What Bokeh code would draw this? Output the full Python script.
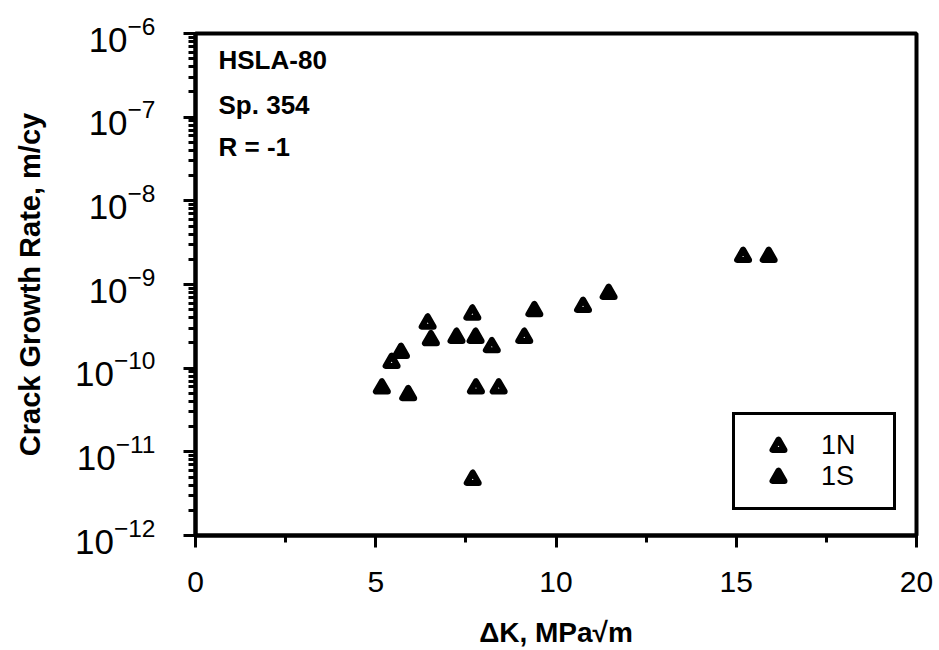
from bokeh.plotting import figure
from bokeh.models import (Range1d, FixedTicker, LogTickFormatter,
                          Label, Legend, LegendItem)
from bokeh.embed import file_html
from bokeh.resources import INLINE

# ---- data ----
n1_x = [15.19, 10.75, 7.68, 6.44, 8.22, 9.12, 5.44, 7.78, 8.41, 7.69]
n1_y = [2.16e-9, 5.46e-10, 4.42e-10, 3.45e-10, 1.80e-10, 2.33e-10, 1.17e-10, 5.77e-11, 5.77e-11, 4.68e-12]
s1_x = [15.90, 11.46, 9.40, 6.53, 7.24, 7.77, 5.70, 5.17, 5.90]
s1_y = [2.16e-9, 7.8e-10, 4.85e-10, 2.18e-10, 2.33e-10, 2.33e-10, 1.54e-10, 5.77e-11, 4.81e-11]

x_ticks = [0, 5, 10, 15, 20]
x_minor = [2.5, 7.5, 12.5, 17.5]
y_ticks = [1e-12, 1e-11, 1e-10, 1e-9, 1e-8, 1e-7, 1e-6]
y_minor = [k * 10.0 ** e for e in range(-12, -6) for k in range(2, 10)]

series_labels = ["1N", "1S"]
note_lines = ["HSLA-80", "Sp. 354", "R = -1"]
x_title = "\u0394K, MPa\u221am"
y_title = "Crack Growth Rate, m/cy"

FONT = "Liberation Sans"

p = figure(width=939, height=650, y_axis_type="log",
           x_range=Range1d(0, 20), y_range=Range1d(1e-12, 1e-6),
           output_backend="svg", toolbar_location=None,
           min_border_left=195, min_border_right=23, min_border_top=33, min_border_bottom=115)
p.background_fill_color = "white"
p.border_fill_color = "white"
p.grid.visible = False
p.outline_line_color = "black"
p.outline_line_width = 4

for ax in (p.xaxis[0], p.yaxis[0]):
    ax.axis_line_width = 4
    ax.axis_line_color = "black"
    ax.major_tick_line_width = 3
    ax.minor_tick_line_width = 3
    ax.major_tick_in = 0
    ax.minor_tick_in = 0
    ax.major_tick_out = 12
    ax.minor_tick_out = 7
    ax.major_tick_line_color = "black"
    ax.minor_tick_line_color = "black"
    ax.major_label_text_font = FONT
    ax.major_label_text_color = "black"
    ax.axis_label_text_font = FONT
    ax.axis_label_text_font_style = "bold"
    ax.axis_label_text_color = "black"

p.xaxis.ticker = FixedTicker(ticks=x_ticks, minor_ticks=x_minor)
p.xaxis.major_label_text_font_size = "30px"
p.xaxis.major_label_standoff = 24
p.xaxis.axis_label = x_title
p.xaxis.axis_label_text_font_size = "28px"
p.xaxis.axis_label_standoff = 22

p.yaxis.ticker = FixedTicker(ticks=y_ticks, minor_ticks=y_minor)
p.yaxis.formatter = LogTickFormatter()
p.yaxis.major_label_text_font_size = "35px"
p.yaxis.major_label_standoff = 28
p.yaxis.axis_label = y_title
p.yaxis.axis_label_text_font_size = "29px"
p.yaxis.axis_label_standoff = 26

# data
r1 = p.scatter(n1_x, n1_y, marker="triangle", size=12, fill_color="white",
               line_color="black", line_width=6, line_join="round")
r2 = p.scatter(s1_x, s1_y, marker="triangle", size=12, fill_color="black",
               line_color="black", line_width=6, line_join="round")

legend = Legend(items=[LegendItem(label=series_labels[0], renderers=[r1]),
                       LegendItem(label=series_labels[1], renderers=[r2])],
                location=(537, 25), orientation="vertical",
                padding=15, spacing=-3, margin=0,
                glyph_width=56, glyph_height=30, label_standoff=15, label_width=57,
                label_text_font=FONT, label_text_font_size="27px", label_text_color="black",
                border_line_color="black", border_line_width=3, border_line_alpha=1.0,
                background_fill_color="white", background_fill_alpha=1.0)
p.add_layout(legend, "center")

for txt, off in zip(note_lines, [-26, -71, -113]):
    p.add_layout(Label(x=0, y=1e-6, x_offset=23, y_offset=off, text=txt,
                       text_font=FONT, text_font_size="26px", text_font_style="bold",
                       text_align="left", text_baseline="alphabetic", text_color="black"))

open("out.html", "w").write(file_html(p, INLINE))
